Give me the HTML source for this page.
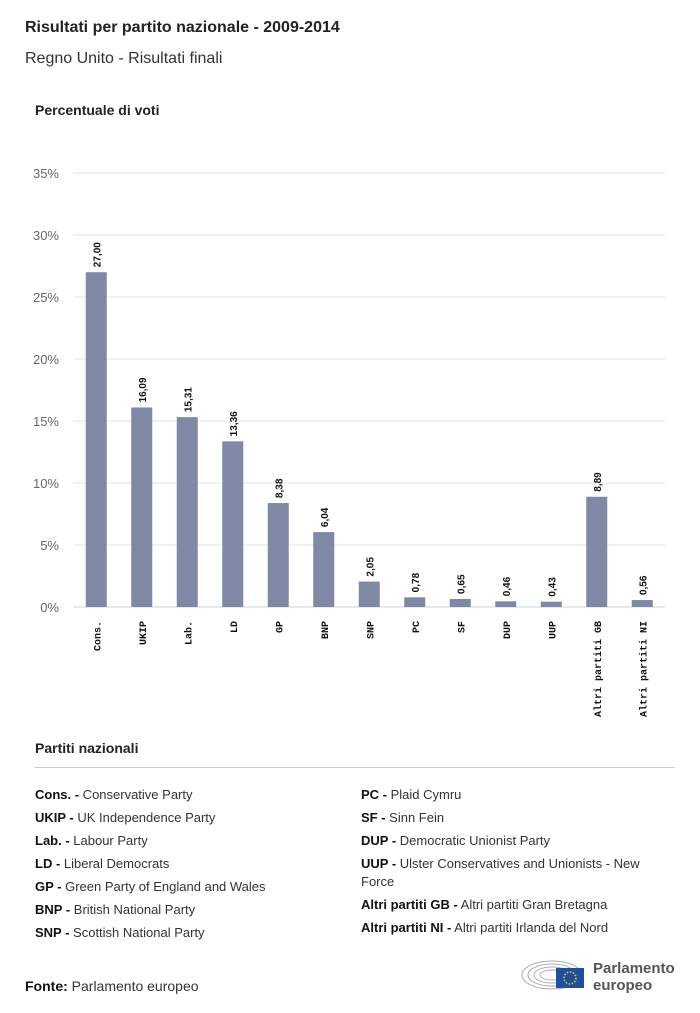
<!DOCTYPE html>
<html><head><meta charset="utf-8"><style>
body{margin:0;background:#fff;font-family:"Liberation Sans",sans-serif;color:#222;}
.wrap{position:relative;width:700px;height:1013px;overflow:hidden}
.abs{position:absolute;white-space:nowrap}
.leg{font-size:13px;line-height:23px;color:#333}
.leg b{color:#111}
</style></head><body><div class="wrap">
<div class="abs" style="left:25px;top:19px;font-size:16px;font-weight:bold">Risultati per partito nazionale - 2009-2014</div>
<div class="abs" style="left:25px;top:50px;font-size:16px;color:#333">Regno Unito - Risultati finali</div>
<div class="abs" style="left:35px;top:102px;font-size:14px;font-weight:bold">Percentuale di voti</div>
<svg class="abs" style="left:0;top:0" width="700" height="730" id="chart"></svg>
<div class="abs" style="left:35px;top:740px;font-size:14px;font-weight:bold">Partiti nazionali</div>
<div class="abs" style="left:35px;top:767px;width:640px;height:1px;background:#ccc"></div>
<div class="abs leg" style="left:35px;top:783px">
<div><b>Cons. -</b> Conservative Party</div>
<div><b>UKIP -</b> UK Independence Party</div>
<div><b>Lab. -</b> Labour Party</div>
<div><b>LD -</b> Liberal Democrats</div>
<div><b>GP -</b> Green Party of England and Wales</div>
<div><b>BNP -</b> British National Party</div>
<div><b>SNP -</b> Scottish National Party</div>
</div>
<div class="abs leg" style="left:361px;top:783px;white-space:normal;width:300px;line-height:23px">
<div><b>PC -</b> Plaid Cymru</div>
<div><b>SF -</b> Sinn Fein</div>
<div><b>DUP -</b> Democratic Unionist Party</div>
<div style="line-height:18px;padding:3px 0 2px"><b>UUP -</b> Ulster Conservatives and Unionists - New Force</div>
<div><b>Altri partiti GB -</b> Altri partiti Gran Bretagna</div>
<div><b>Altri partiti NI -</b> Altri partiti Irlanda del Nord</div>
</div>
<div class="abs" style="left:25px;top:978px;font-size:14px;color:#333"><b style="color:#111">Fonte:</b> Parlamento europeo</div>
<div class="abs" style="left:520px;top:955px">
<svg width="70" height="36"><g fill="none" stroke="#aab" stroke-width="1">
<ellipse cx="32" cy="20" rx="30" ry="14"/><ellipse cx="32" cy="20" rx="24" ry="11"/><ellipse cx="32" cy="20" rx="18" ry="8"/><ellipse cx="32" cy="20" rx="12" ry="5"/></g>
<rect x="36" y="13" width="28" height="20" fill="#1e4fa0"/><circle cx="50" cy="23" r="6" fill="none" stroke="#f5d000" stroke-width="1.5" stroke-dasharray="1.5 1.6"/></svg>
<div class="abs" style="left:73px;top:5px;font-size:15px;font-weight:bold;color:#555;line-height:17px">Parlamento<br>europeo</div>
</div>
</div>
<script>
const categories=["Cons.","UKIP","Lab.","LD","GP","BNP","SNP","PC","SF","DUP","UUP","Altri partiti GB","Altri partiti NI"];
const values=[27.00,16.09,15.31,13.36,8.38,6.04,2.05,0.78,0.65,0.46,0.43,8.89,0.56];
const labels=["27,00","16,09","15,31","13,36","8,38","6,04","2,05","0,78","0,65","0,46","0,43","8,89","0,56"];
const ticks=[0,5,10,15,20,25,30,35];
const svg=document.getElementById('chart');const NS='http://www.w3.org/2000/svg';
const x0=73.5,x1=665,y0=607,yTop=173,maxV=35;
const bw=(x1-x0)/categories.length;
const y=v=>y0-(v/maxV)*(y0-yTop);
const xc=i=>x0+bw*(i+0.5);
function mk(t,a){const e=document.createElementNS(NS,t);for(const k in a)e.setAttribute(k,a[k]);svg.appendChild(e);return e;}
ticks.forEach(t=>{
 const l=mk('line',{x1:x0,x2:x1,y1:y(t),y2:y(t),stroke:t===0?'#ccd3e0':'#e6e6e6','stroke-width':1});
 
 
 const tx=mk('text',{x:59,y:y(t)+5,'text-anchor':'end','font-size':13,fill:'#666','font-family':'Liberation Sans'});
 tx.textContent=t+'%';
 
 
});
values.forEach((v,i)=>{
 const r=mk('rect',{x:xc(i)-10.5,y:y(v),width:21,height:y0-y(v),fill:'#7f88a4'});
 
 
 const vt=mk('text',{transform:`translate(${xc(i)+4},${y(v)-5}) rotate(-90)`,'font-size':10,'font-weight':'bold',fill:'#111','font-family':'Liberation Sans'});
 vt.textContent=labels[i];
 
 
 const ct=mk('text',{transform:`translate(${xc(i)+4},${y0+14}) rotate(-90)`,'text-anchor':'end','font-size':10,'font-weight':'bold',fill:'#111','font-family':'Liberation Mono'});
 ct.textContent=categories[i];
 
 
});
</script>
</body></html>
